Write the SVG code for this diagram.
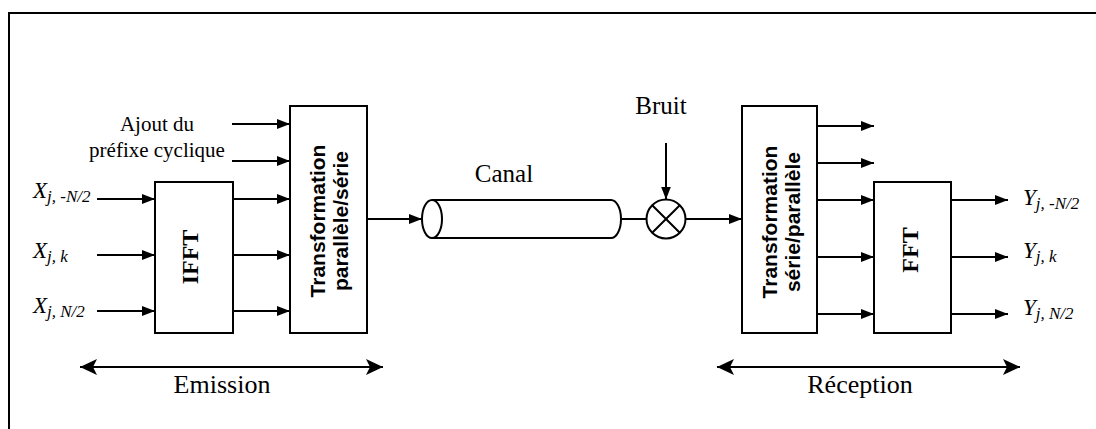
<svg xmlns="http://www.w3.org/2000/svg" width="1096" height="429" viewBox="0 0 1096 429">
<style>
.box{fill:#fff;stroke:#000;stroke-width:2}
.ln{fill:none;stroke:#000;stroke-width:2}
.ar{fill:none;stroke:#000;stroke-width:2;marker-end:url(#ah)}
.serif{font-family:"Liberation Serif","Times New Roman",serif;fill:#000}
.sans{font-family:"Liberation Sans",Arial,sans-serif;font-weight:bold;fill:#000}
.it{font-style:italic}
.sub{font-size:17px}
</style>
<defs>
<marker id="ah" viewBox="0 0 13 10" refX="13" refY="5" markerWidth="13" markerHeight="10" markerUnits="userSpaceOnUse" orient="auto">
<path d="M0,0 L13,5 L0,10 Z" fill="#000"/>
</marker>
<marker id="big" viewBox="0 0 17 16" refX="17" refY="8" markerWidth="17" markerHeight="16" markerUnits="userSpaceOnUse" orient="auto-start-reverse">
<path d="M0,0 L17,8 L0,16 L4,8 Z" fill="#000"/>
</marker>
</defs>
<rect width="1096" height="429" fill="#fff"/>
<path id="frame" d="M9,440 V13 H1100" class="ln"/>

<g id="connectors">
<line class="ar" x1="232" y1="124" x2="290" y2="124"/>
<line class="ar" x1="232" y1="161" x2="290" y2="161"/>
<line class="ar" x1="233" y1="199" x2="290" y2="199"/>
<line class="ar" x1="233" y1="255" x2="290" y2="255"/>
<line class="ar" x1="233" y1="311" x2="290" y2="311"/>
<line class="ar" x1="97" y1="199" x2="155" y2="199"/>
<line class="ar" x1="97" y1="255" x2="155" y2="255"/>
<line class="ar" x1="97" y1="311" x2="155" y2="311"/>
<line class="ar" x1="367" y1="219" x2="422" y2="219"/>
<line class="ln" x1="621" y1="219" x2="646.5" y2="219"/>
<line class="ar" x1="685.5" y1="219" x2="742" y2="219"/>
<line class="ar" x1="666" y1="143" x2="666" y2="199.5"/>
<line class="ar" x1="817" y1="126" x2="874" y2="126"/>
<line class="ar" x1="817" y1="163" x2="874" y2="163"/>
<line class="ar" x1="817" y1="200" x2="874" y2="200"/>
<line class="ar" x1="817" y1="257" x2="874" y2="257"/>
<line class="ar" x1="817" y1="314" x2="874" y2="314"/>
<line class="ar" x1="951" y1="200" x2="1008" y2="200"/>
<line class="ar" x1="951" y1="257" x2="1008" y2="257"/>
<line class="ar" x1="951" y1="314" x2="1008" y2="314"/>
<line x1="80" y1="367" x2="383" y2="367" stroke="#000" stroke-width="2" marker-start="url(#big)" marker-end="url(#big)"/>
<line x1="717" y1="367" x2="1020" y2="367" stroke="#000" stroke-width="2" marker-start="url(#big)" marker-end="url(#big)"/>
</g>

<g id="ifft">
<rect class="box" x="155" y="182" width="78" height="151"/>
<text class="serif" font-weight="bold" font-size="24" text-anchor="middle" x="198" y="257" transform="rotate(-90 198 257)">IFFT</text>
</g>

<g id="ps">
<rect class="box" x="290" y="106" width="77" height="227"/>
<text class="sans" font-size="21" text-anchor="middle" x="325" y="221" transform="rotate(-90 325 221)">Transformation</text>
<text class="sans" font-size="21" text-anchor="middle" x="348" y="221" transform="rotate(-90 348 221)">parallèle/série</text>
</g>

<g id="canal">
<path class="ln" d="M432,200 H611 A10,19 0 0 1 611,238 H432"/>
<ellipse class="ln" cx="432" cy="219" rx="10" ry="19"/>
<text class="serif" font-size="25" text-anchor="middle" x="504" y="182">Canal</text>
</g>

<g id="mixer">
<circle class="ln" cx="666" cy="219" r="19.5"/>
<path class="ln" d="M652.2,205.2 L679.8,232.8 M679.8,205.2 L652.2,232.8"/>
<text class="serif" font-size="25" text-anchor="middle" x="661" y="114">Bruit</text>
</g>

<g id="sp">
<rect class="box" x="742" y="106" width="75" height="227"/>
<text class="sans" font-size="21" text-anchor="middle" x="777" y="222" transform="rotate(-90 777 222)">Transformation</text>
<text class="sans" font-size="21" text-anchor="middle" x="800" y="222" transform="rotate(-90 800 222)">série/parallèle</text>
</g>

<g id="fft">
<rect class="box" x="874" y="182" width="77" height="151"/>
<text class="serif" font-weight="bold" font-size="24" text-anchor="middle" x="918" y="250" transform="rotate(-90 918 250)">FFT</text>
</g>

<g id="labels">
<text class="serif" font-size="21" text-anchor="middle" x="157" y="131">Ajout du</text>
<text class="serif" font-size="21" text-anchor="middle" x="157" y="157">préfixe cyclique</text>
<text class="serif it" x="33" y="198" font-size="23">X<tspan class="sub" dy="4">j, -N/2</tspan></text>
<text class="serif it" x="33" y="258" font-size="23">X<tspan class="sub" dy="4">j, k</tspan></text>
<text class="serif it" x="33" y="313" font-size="23">X<tspan class="sub" dy="4">j, N/2</tspan></text>
<text class="serif it" x="1023" y="205" font-size="23">Y<tspan class="sub" dy="4">j, -N/2</tspan></text>
<text class="serif it" x="1023" y="258" font-size="23">Y<tspan class="sub" dy="4">j, k</tspan></text>
<text class="serif it" x="1023" y="315" font-size="23">Y<tspan class="sub" dy="4">j, N/2</tspan></text>
<text class="serif" font-size="26" text-anchor="middle" x="222" y="393">Emission</text>
<text class="serif" font-size="26" text-anchor="middle" x="860" y="393">Réception</text>
</g>
</svg>
